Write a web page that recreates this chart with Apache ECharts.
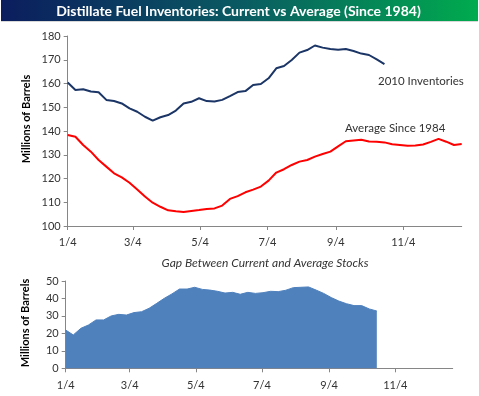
<!DOCTYPE html>
<html>
<head>
<meta charset="utf-8">
<script src="https://cdn.jsdelivr.net/npm/echarts@6/dist/echarts.min.js"></script>
<style>
  html, body { margin: 0; padding: 0; background: #fff; }
  #main { width: 479px; height: 396px; }
</style>
</head>
<body>
<div id="main"></div>
<script>
// weekly readings, first week 1/4/2010
const firstWeek = [2010, 0, 4]
const weekCount = 52
const tickDates = [[2010, 0, 4], [2010, 2, 4], [2010, 4, 4], [2010, 6, 4], [2010, 8, 4], [2010, 10, 4]]

const inventories2010 = [
  160.4, 157.3, 157.6, 156.6, 156.3, 153.1, 152.6, 151.6, 149.5, 148.1,
  146.0, 144.4, 145.8, 146.7, 148.6, 151.6, 152.3, 153.8, 152.6, 152.4,
  153.1, 154.7, 156.4, 156.8, 159.4, 159.8, 162.2, 166.4, 167.4, 169.9,
  173.0, 174.1, 176.0, 175.1, 174.5, 174.2, 174.5, 173.7, 172.6, 172.0,
  170.2, 168.2
]
const averageSince1984 = [
  138.3, 137.6, 134.1, 131.3, 127.8, 125.0, 122.2, 120.5, 118.2, 115.4,
  112.4, 109.8, 108.1, 106.6, 106.2, 105.9, 106.3, 106.7, 107.2, 107.4,
  108.6, 111.4, 112.6, 114.2, 115.3, 116.6, 119.1, 122.5, 123.9, 125.7,
  127.1, 127.8, 129.2, 130.3, 131.3, 133.5, 135.7, 136.0, 136.3, 135.6,
  135.5, 135.2, 134.4, 134.1, 133.8, 133.9, 134.3, 135.4, 136.7, 135.5,
  134.1, 134.5
]
const gapStocks = [
  21.9, 19.1, 22.9, 24.8, 27.7, 27.7, 30.0, 30.9, 30.5, 31.9,
  32.4, 34.4, 37.2, 40.1, 42.6, 45.4, 45.4, 46.4, 45.2, 44.8,
  44.1, 43.1, 43.5, 42.4, 43.5, 42.9, 43.3, 44.1, 43.9, 44.7,
  46.2, 46.4, 46.6, 44.8, 42.9, 40.5, 38.5, 37.0, 35.9, 35.9,
  34.0, 32.8
]

// x positions are days since the first week
const DAY = 86400000
const start = new Date(firstWeek[0], firstWeek[1], firstWeek[2])
function dayOf(d) {
  return Math.round((new Date(d[0], d[1], d[2]) - start) / DAY)
}
const ticks = tickDates.map(dayOf)
const lastDay = 7 * (weekCount - 1)

function pairs(values) {
  return values.map(function(v, i) { return [7 * i, v] })
}
function md(v) {
  const d = new Date(firstWeek[0], firstWeek[1], firstWeek[2] + v)
  return (d.getMonth() + 1) + '/' + d.getDate()
}

const font = 'Lato, "Open Sans", sans-serif'
const axisGray = '#868686'
const textColor = '#333'

function xAxisOf(gridIndex, margin) {
  return {
    type: 'value',
    gridIndex: gridIndex,
    min: 0,
    max: lastDay,
    axisLine: { show: true, onZero: false, lineStyle: { color: axisGray } },
    axisTick: { show: true, customValues: ticks, length: 4, lineStyle: { color: axisGray } },
    axisLabel: { customValues: ticks, formatter: md, color: textColor, fontSize: 11, fontFamily: font, margin: margin },
    splitLine: { show: false }
  }
}
function yAxisOf(gridIndex, min, max) {
  return {
    type: 'value',
    gridIndex: gridIndex,
    min: min,
    max: max,
    interval: 10,
    axisLine: { show: true, lineStyle: { color: axisGray } },
    axisTick: { show: true, length: 4, lineStyle: { color: axisGray } },
    axisLabel: { color: textColor, fontSize: 11, fontFamily: font, margin: 7 },
    splitLine: { show: false }
  }
}

const chart = echarts.init(document.getElementById('main'))
chart.setOption({
  animation: false,
  backgroundColor: '#fff',
  grid: [
    { left: 67.7, top: 36, width: 394, height: 190 },
    { left: 65.7, top: 281, width: 387, height: 87.3 }
  ],
  xAxis: [xAxisOf(0, 11), xAxisOf(1, 12)],
  yAxis: [yAxisOf(0, 100, 180), yAxisOf(1, 0, 50)],
  series: [
    {
      name: '2010 Inventories',
      type: 'line',
      data: pairs(inventories2010),
      showSymbol: false,
      lineStyle: { color: '#1b3566', width: 2 }
    },
    {
      name: 'Average Since 1984',
      type: 'line',
      data: pairs(averageSince1984),
      showSymbol: false,
      lineStyle: { color: '#ff0000', width: 2 }
    },
    {
      name: 'Gap',
      type: 'line',
      xAxisIndex: 1,
      yAxisIndex: 1,
      data: pairs(gapStocks),
      showSymbol: false,
      lineStyle: { color: '#4f81bd', width: 1 },
      areaStyle: { color: '#4f81bd', opacity: 1 }
    }
  ],
  graphic: [
    {
      type: 'rect',
      shape: { x: 1, y: 0, width: 477, height: 21 },
      style: {
        fill: new echarts.graphic.LinearGradient(0, 0, 1, 0, [
          { offset: 0, color: '#0b1d5e' },
          { offset: 0.5, color: '#0a5a62' },
          { offset: 1, color: '#00ab4e' }
        ])
      }
    },
    { type: 'rect', shape: { x: 1, y: 21, width: 477, height: 1 }, style: { fill: '#d8d8d8' } },
    {
      type: 'text', x: 238.5, y: 11,
      style: { text: 'Distillate Fuel Inventories: Current vs Average (Since 1984)', fill: '#fff',
        font: 'bold 14px ' + font, align: 'center', verticalAlign: 'middle' }
    },
    {
      type: 'text', x: 378, y: 81,
      style: { text: '2010 Inventories', fill: textColor, font: '11.5px ' + font, align: 'left', verticalAlign: 'middle' }
    },
    {
      type: 'text', x: 345, y: 128,
      style: { text: 'Average Since 1984', fill: textColor, font: '11.5px ' + font, align: 'left', verticalAlign: 'middle' }
    },
    {
      type: 'text', x: 265, y: 263,
      style: { text: 'Gap Between Current and Average Stocks', fill: textColor, font: 'italic 12px ' + font, align: 'center', verticalAlign: 'middle' }
    },
    {
      type: 'text', x: 26, y: 119, rotation: Math.PI / 2,
      style: { text: 'Millions of Barrels', fill: '#000', font: 'bold 11px ' + font, align: 'center', verticalAlign: 'middle' }
    },
    {
      type: 'text', x: 25, y: 323, rotation: Math.PI / 2,
      style: { text: 'Millions of Barrels', fill: '#000', font: 'bold 11px ' + font, align: 'center', verticalAlign: 'middle' }
    }
  ]
})
</script>
</body>
</html>
